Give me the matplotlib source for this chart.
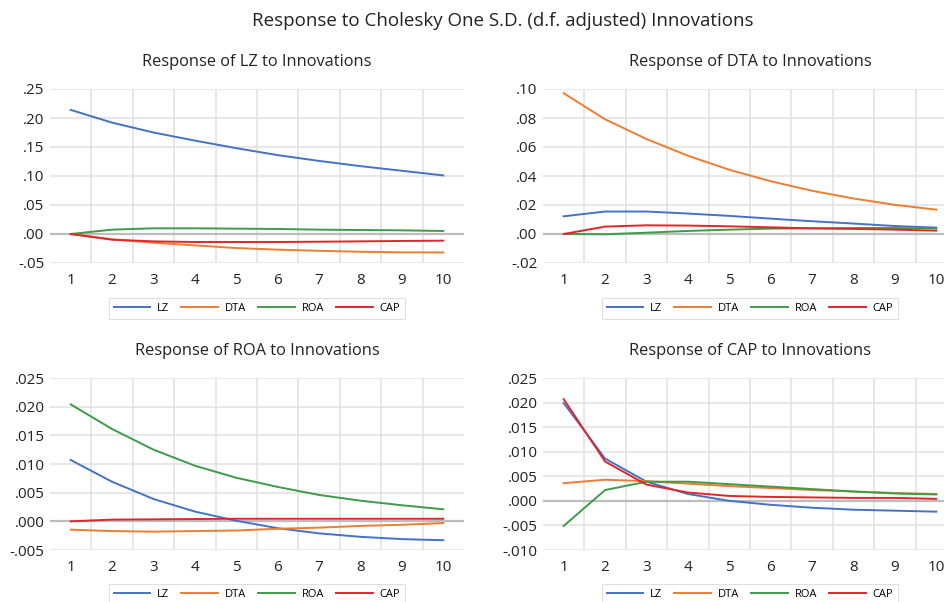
import matplotlib.pyplot as plt
import numpy as np
from matplotlib.ticker import FuncFormatter

plt.rcParams['font.family'] = ['Open Sans', 'DejaVu Sans']

periods = np.arange(1, 11)
series_names = ["LZ", "DTA", "ROA", "CAP"]
colors = ["#4472C4", "#ED7D31", "#3E9B47", "#E0262B"]

# response of LZ
lz_lz = [0.214, 0.192, 0.175, 0.161, 0.148, 0.136, 0.126, 0.117, 0.109, 0.101]
lz_dta = [0.0, -0.0092, -0.015, -0.0196, -0.0242, -0.027, -0.029, -0.0306, -0.0317, -0.0318]
lz_roa = [0.0, 0.0075, 0.0098, 0.0098, 0.0092, 0.0087, 0.0075, 0.0069, 0.0063, 0.0052]
lz_cap = [0.0, -0.0098, -0.0127, -0.0138, -0.0138, -0.0138, -0.0133, -0.0127, -0.012, -0.0115]

# response of DTA
dta_lz = [0.0122, 0.0155, 0.0155, 0.0141, 0.0125, 0.0106, 0.0088, 0.0072, 0.0055, 0.0044]
dta_dta = [0.0971, 0.0791, 0.0655, 0.054, 0.0443, 0.0364, 0.0298, 0.0245, 0.0201, 0.0168]
dta_roa = [0.0, -0.0002, 0.0009, 0.0021, 0.003, 0.0037, 0.0039, 0.0041, 0.0041, 0.0038]
dta_cap = [0.0, 0.0051, 0.006, 0.0058, 0.0053, 0.0046, 0.0039, 0.0035, 0.003, 0.0023]

# response of ROA
roa_lz = [0.0107, 0.0069, 0.0039, 0.0017, 0.0001, -0.0012, -0.0021, -0.0027, -0.0031, -0.0033]
roa_dta = [-0.00145, -0.0017, -0.0018, -0.0017, -0.0016, -0.0013, -0.0011, -0.0008, -0.0006, -0.0003]
roa_roa = [0.0204, 0.0161, 0.0125, 0.0097, 0.0076, 0.006, 0.0046, 0.0036, 0.0028, 0.0021]
roa_cap = [0.0, 0.0003, 0.00035, 0.0004, 0.00045, 0.00045, 0.00045, 0.00045, 0.00045, 0.00045]

# response of CAP
cap_lz = [0.0199, 0.0086, 0.0039, 0.0014, 0.0, -0.0008, -0.0014, -0.0018, -0.002, -0.0022]
cap_dta = [0.0036, 0.0043, 0.004, 0.0035, 0.003, 0.0026, 0.0022, 0.0019, 0.0016, 0.0014]
cap_roa = [-0.0051, 0.0022, 0.0039, 0.0039, 0.0034, 0.0029, 0.0024, 0.0019, 0.0015, 0.0013]
cap_cap = [0.0207, 0.008, 0.0033, 0.0017, 0.001, 0.0008, 0.0007, 0.0006, 0.0006, 0.0004]

panels = [
    ("Response of LZ to Innovations", [lz_lz, lz_dta, lz_roa, lz_cap], np.arange(-0.05, 0.2501, 0.05), 2),
    ("Response of DTA to Innovations", [dta_lz, dta_dta, dta_roa, dta_cap], np.arange(-0.02, 0.1001, 0.02), 2),
    ("Response of ROA to Innovations", [roa_lz, roa_dta, roa_roa, roa_cap], np.arange(-0.005, 0.02501, 0.005), 3),
    ("Response of CAP to Innovations", [cap_lz, cap_dta, cap_roa, cap_cap], np.arange(-0.010, 0.02501, 0.005), 3),
]

positions = [
    [50 / 945, 1 - 263 / 602, 414 / 945, 174 / 602],
    [543 / 945, 1 - 263 / 602, 414 / 945, 174 / 602],
    [50 / 945, 1 - 550 / 602, 414 / 945, 172 / 602],
    [543 / 945, 1 - 550 / 602, 414 / 945, 172 / 602],
]


def make_fmt(dec):
    def f(v, pos):
        s = f"{v:.{dec}f}"
        if s.startswith("-0"):
            s = "-" + s[2:]
        elif s.startswith("0"):
            s = s[1:]
        return s
    return FuncFormatter(f)


fig = plt.figure(figsize=(9.45, 6.02), dpi=100)
fig.text(503 / 945, 1 - 21 / 602, "Response to Cholesky One S.D. (d.f. adjusted) Innovations",
         ha="center", va="center", fontsize=13.5, color="#222222")

for (title, data, yticks, dec), pos in zip(panels, positions):
    ax = fig.add_axes(pos)
    for vals, name, c in zip(data, series_names, colors):
        ax.plot(periods, vals, color=c, lw=1.4, label=name, zorder=3)
    ax.set_xlim(0.5, 10.5)
    ax.set_ylim(yticks[0], yticks[-1])
    ax.set_yticks(yticks)
    ax.set_xticks(periods)
    ax.yaxis.set_major_formatter(make_fmt(dec))
    for v in np.arange(1.5, 10, 1.0):
        ax.axvline(v, color="#E3E3E3", lw=1.2, zorder=1)
    for v in yticks:
        ax.axhline(v, color="#BDBDBD" if abs(v) < 1e-9 else "#E3E3E3",
                   lw=1.6 if abs(v) < 1e-9 else 1.2, zorder=1 if abs(v) > 1e-9 else 2)
    for s in ax.spines.values():
        s.set_visible(False)
    ax.tick_params(length=0, labelsize=11, colors="#222222")
    ax.tick_params(axis="x", pad=7)
    ax.tick_params(axis="y", pad=4)
    ax.set_title(title, fontsize=11.8, pad=16.5, color="#222222")
    leg = ax.legend(loc="center", bbox_to_anchor=(0.5, -0.26), ncol=4, fontsize=8,
                    frameon=True, fancybox=False, handlelength=3.3, handletextpad=0.6,
                    columnspacing=1.1, borderpad=0.45)
    leg.get_frame().set_edgecolor("#D9D9D9")
    leg.get_frame().set_linewidth(0.8)

fig.savefig("out.png", dpi=100)
